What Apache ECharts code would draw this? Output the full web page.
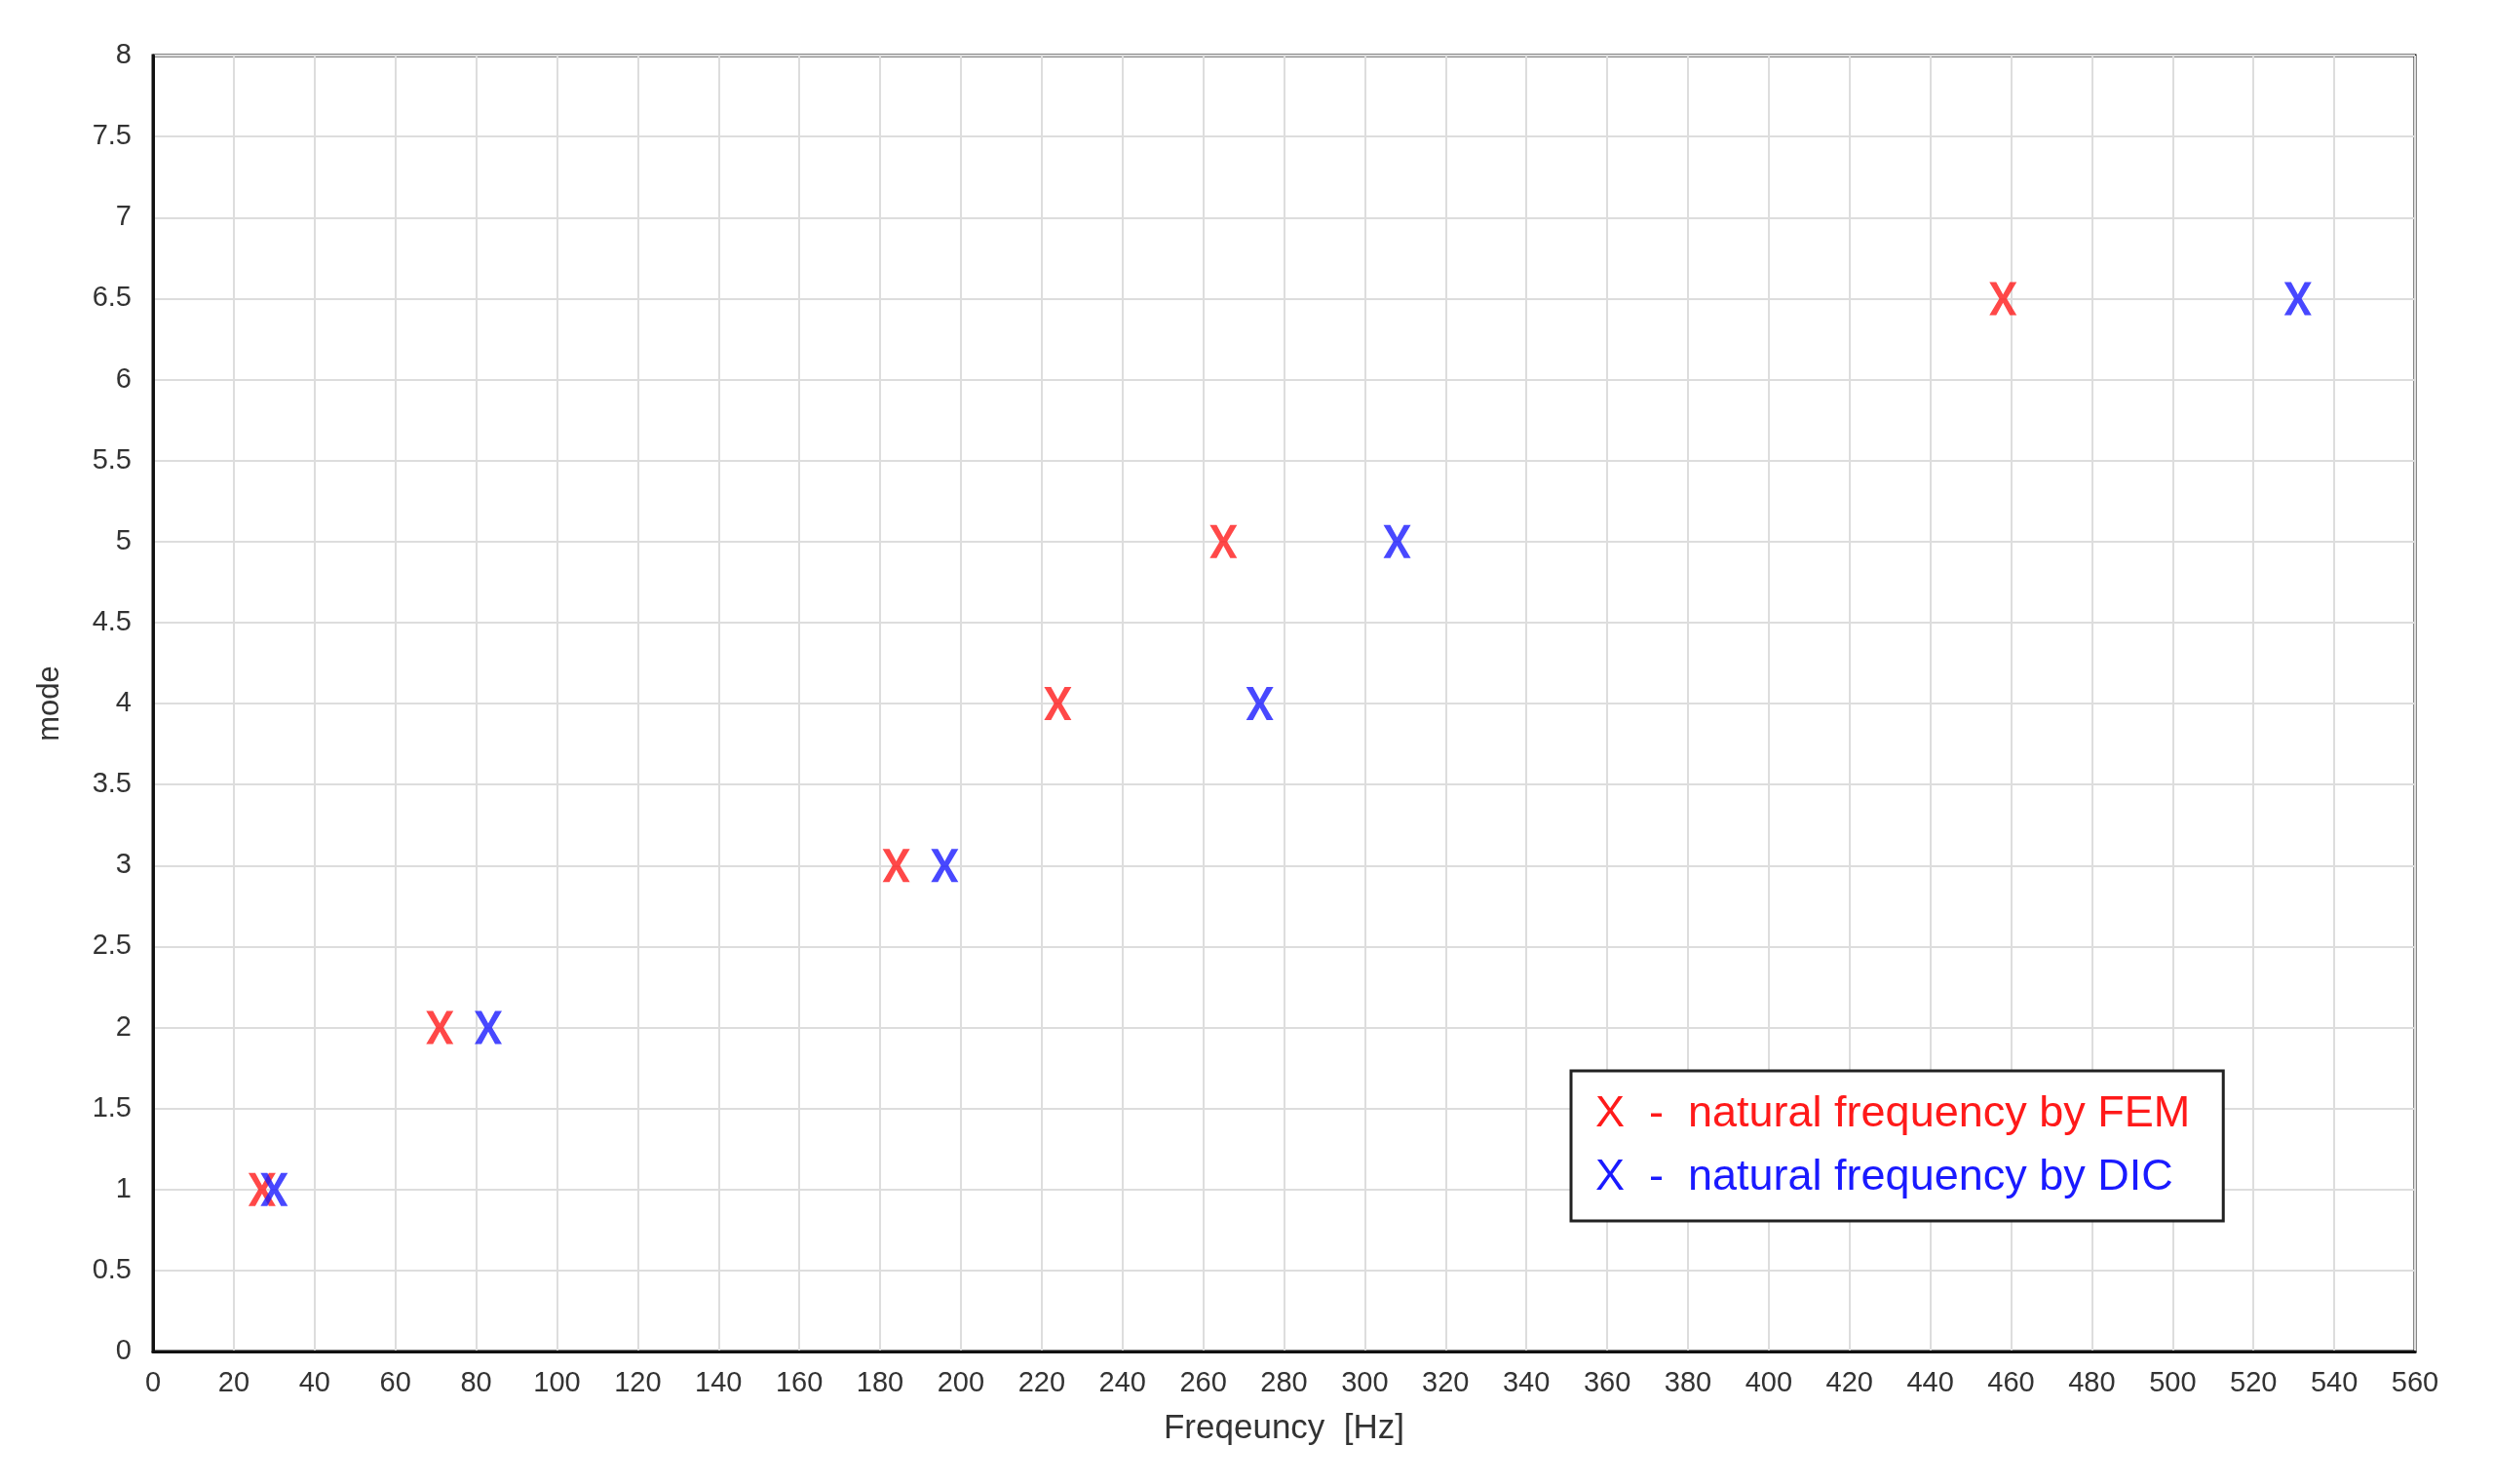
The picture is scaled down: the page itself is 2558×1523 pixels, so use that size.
<!DOCTYPE html>
<html><head><meta charset="utf-8">
<script src="https://cdn.jsdelivr.net/npm/echarts@6/dist/echarts.min.js"></script>
<style>html,body{margin:0;background:#fff}#c{width:2558px;height:1523px}</style>
</head><body><div id="c"></div>
<script>
const modes = [1, 2, 3, 4, 5, 6.5];
const femFreq = [27, 71, 184, 224, 265, 458];
const dicFreq = [30, 83, 196, 274, 308, 531];
const femName = 'natural frequency by FEM';
const dicName = 'natural frequency by DIC';
const X = 'path://M0,0 L4,0 L8,7.5 L12,0 L16,0 L10.2,10 L16,20 L12,20 L8,12.5 L4,20 L0,20 L5.8,10 Z';
const chart = echarts.init(document.getElementById('c'));
const fontFamily = 'Liberation Sans, Arial, sans-serif';
chart.setOption({
  animation: false,
  textStyle: {fontFamily},
  grid: {left: 157, right: 80, top: 57, bottom: 136, show: true, borderColor: '#111', borderWidth: 3},
  xAxis: {type: 'value', min: 0, max: 560, interval: 20,
    name: 'Freqeuncy  [Hz]', nameLocation: 'middle', nameGap: 62,
    nameTextStyle: {fontSize: 35, color: '#333'},
    axisLine: {show: true, lineStyle: {color: '#111', width: 3}}, axisTick: {show: false},
    axisLabel: {fontSize: 29, color: '#333', margin: 18},
    splitLine: {lineStyle: {color: '#ddd', width: 2}}},
  yAxis: {type: 'value', min: 0, max: 8, interval: 0.5,
    name: 'mode', nameLocation: 'middle', nameGap: 90, nameRotate: 90,
    nameTextStyle: {fontSize: 31, color: '#333'},
    axisLine: {show: true, lineStyle: {color: '#111', width: 3}}, axisTick: {show: false},
    axisLabel: {fontSize: 29, color: '#333', margin: 22},
    splitLine: {lineStyle: {color: '#ddd', width: 2}}},
  legend: {orient: 'vertical', left: 1612, top: 1099, padding: [22, 34, 22, 20],
    borderColor: '#222', borderWidth: 3, backgroundColor: '#fff', itemGap: 20,
    icon: 'none', itemWidth: 0, itemHeight: 30,
    data: [{name: femName, textStyle: {color: '#ff1a1a'}}, {name: dicName, textStyle: {color: '#1a1aff'}}],
    formatter: n => 'X  -  ' + n,
    textStyle: {fontSize: 45}},
  series: [
    {name: femName, type: 'scatter', symbol: X, symbolSize: [28, 34], itemStyle: {color: '#ff1a1a'},
     data: femFreq.map((f, i) => [f, modes[i]])},
    {name: dicName, type: 'scatter', symbol: X, symbolSize: [28, 34], itemStyle: {color: '#1a1aff'},
     data: dicFreq.map((f, i) => [f, modes[i]])}
  ]
});
</script></body></html>
